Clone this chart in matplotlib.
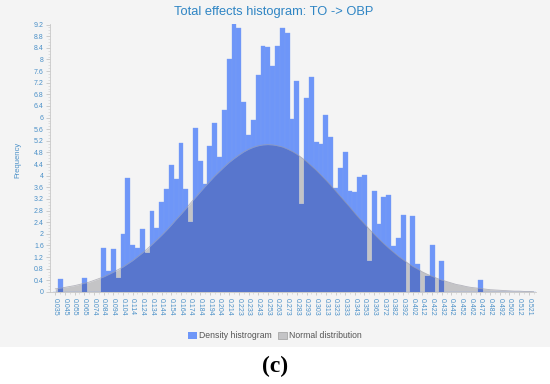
import numpy as np
import matplotlib
matplotlib.use("Agg")
import matplotlib.pyplot as plt
from matplotlib.patches import Rectangle, Patch
from matplotlib.path import Path

# density histogram heights, one per bin (100 bins)
density = [0, 0.46, 0, 0, 0, 0, 0.48, 0, 0, 0,
           1.52, 0.71, 1.48, 0.47, 2.0, 3.93, 1.63, 1.52, 2.18, 1.33,
           2.8, 2.2, 3.1, 3.53, 4.36, 3.9, 5.13, 3.53, 2.4, 5.64,
           4.52, 3.72, 5.02, 5.81, 4.66, 6.25, 8.02, 9.22, 9.09, 6.53,
           5.39, 5.92, 7.47, 8.46, 8.43, 7.79, 8.46, 9.09, 8.9, 5.95,
           7.25, 3.03, 6.67, 7.39, 5.16, 5.1, 6.08, 5.34, 3.58, 4.25,
           4.8, 3.48, 3.44, 3.96, 4.04, 1.06, 3.48, 2.34, 3.26, 3.33,
           1.58, 1.86, 2.65, 0, 2.63, 0.96, 0, 0.55, 1.6, 0,
           1.08, 0, 0, 0, 0, 0, 0, 0, 0.43, 0,
           0, 0, 0, 0, 0, 0, 0, 0, 0, 0]

# normal distribution curve, read per bin
normal = [0.11, 0.13, 0.16, 0.19, 0.22, 0.26, 0.30, 0.34, 0.40, 0.46,
          0.52, 0.60, 0.68, 0.77, 0.86, 0.97, 1.08, 1.21, 1.34, 1.48,
          1.63, 1.79, 1.95, 2.12, 2.30, 2.49, 2.67, 2.86, 3.06, 3.25,
          3.44, 3.63, 3.81, 3.99, 4.15, 4.31, 4.46, 4.59, 4.71, 4.82,
          4.91, 4.98, 5.03, 5.06, 5.07, 5.06, 5.03, 4.99, 4.92, 4.84,
          4.74, 4.62, 4.49, 4.34, 4.19, 4.02, 3.85, 3.67, 3.48, 3.29,
          3.10, 2.91, 2.71, 2.52, 2.34, 2.16, 1.99, 1.82, 1.66, 1.51,
          1.37, 1.23, 1.11, 0.99, 0.88, 0.79, 0.69, 0.61, 0.54, 0.47,
          0.41, 0.36, 0.31, 0.26, 0.23, 0.19, 0.16, 0.14, 0.12, 0.10,
          0.08, 0.07, 0.06, 0.05, 0.04, 0.03, 0.03, 0.02, 0.02, 0.01]

# labels on every other bin
x_labels = ["0.035", "0.045", "0.055", "0.065", "0.074", "0.084", "0.094", "0.104",
            "0.114", "0.124", "0.134", "0.144", "0.154", "0.164", "0.174", "0.184",
            "0.194", "0.204", "0.214", "0.223", "0.233", "0.243", "0.253", "0.263",
            "0.273", "0.283", "0.293", "0.303", "0.313", "0.323", "0.333", "0.343",
            "0.353", "0.363", "0.372", "0.382", "0.392", "0.402", "0.412", "0.422",
            "0.432", "0.442", "0.452", "0.462", "0.472", "0.482", "0.492", "0.502",
            "0.512", "0.521"]

light_blue = "#6e96f8"
dark_blue = "#5876cd"
gray = "#c4c4c6"
bg = "#f4f4f4"
tick_col = "#4a90c8"
plt.rcParams['font.family'] = ['Liberation Sans', 'DejaVu Sans']

fig = plt.figure(figsize=(5.5, 3.84), dpi=100)
fig.patch.set_facecolor("white")
fig.patches.append(Rectangle((0, 1 - 347 / 384), 1, 347 / 384, transform=fig.transFigure,
                             facecolor=bg, edgecolor="none", zorder=-10))

ax = fig.add_axes([50 / 550, 1 - 292 / 384, 486 / 550, 268 / 384])
ax.set_facecolor("none")

n = len(density)
centers = np.arange(n) + 0.5

# normal area (gray), bars, then overlap in darker blue
ax.fill_between(centers, 0, normal, color=gray, lw=0, zorder=1)
ax.bar(centers, density, width=1.0, color=light_blue, edgecolor="#7a9ef6", linewidth=0.25, zorder=2)
rects = [Path([(k, 0), (k + 1, 0), (k + 1, h), (k, h), (k, 0)],
              [Path.MOVETO, Path.LINETO, Path.LINETO, Path.LINETO, Path.CLOSEPOLY])
         for k, h in enumerate(density) if h > 0]
clip = Path.make_compound_path(*rects)
over = ax.fill_between(centers, 0, normal, color=dark_blue, lw=0, zorder=3)
over.set_clip_path(clip, ax.transData)
ax.plot(centers, normal, color="#9a9aa6", lw=0.6, alpha=0.7, zorder=4)

ax.set_xlim(-0.6, 100)
ax.set_ylim(0, 9.22)

yt = np.round(np.arange(0, 9.21, 0.4), 1)
ax.set_yticks(yt)
ax.set_yticklabels(["{:g}".format(v) for v in yt])
ax.set_yticks(np.round(np.arange(0, 9.21, 0.1), 1), minor=True)
ax.set_xticks(centers[::2])
ax.set_xticklabels(x_labels, rotation=-90)
ax.set_xticks(centers, minor=True)

ax.tick_params(axis="y", which="major", labelsize=5, labelcolor=tick_col, color="#bbbbbb",
               length=3, width=0.5, pad=1.5)
ax.tick_params(axis="y", which="minor", color="#cccccc", length=1.5, width=0.4)
ax.tick_params(axis="x", which="major", labelsize=5, labelcolor=tick_col, color="#bbbbbb",
               length=2.5, width=0.5, pad=1.5)
ax.tick_params(axis="x", which="minor", color="#cccccc", length=1.5, width=0.4)

for s in ["top", "right"]:
    ax.spines[s].set_visible(False)
for s in ["left", "bottom"]:
    ax.spines[s].set_color("#c8c8c8")
    ax.spines[s].set_linewidth(0.6)

fig.text(274 / 550, 1 - 12 / 384, "Total effects histogram: TO -> OBP", ha="center", va="center",
         fontsize=9.3, color="#2f85c4")
fig.text(18 / 550, 1 - 160 / 384, "Frequency", rotation=90, ha="center", va="center",
         fontsize=5.5, color=tick_col)

handles = [Patch(facecolor=light_blue, edgecolor="none", label="Density histrogram"),
           Patch(facecolor=gray, edgecolor="#a8a8a8", linewidth=0.6, label="Normal distribution")]
fig.legend(handles=handles, loc="center", bbox_to_anchor=(275 / 550, 1 - 336 / 384), ncol=2,
           frameon=False, fontsize=6.2, handlelength=1.0, handleheight=1.0, handletextpad=0.3,
           columnspacing=0.7, labelcolor="#555555")

fig.text(275 / 550, 1 - 366 / 384, "(c)", ha="center", va="center", fontsize=17,
         family="Liberation Serif", fontweight="bold", color="black")

fig.savefig("out.png", dpi=100)
